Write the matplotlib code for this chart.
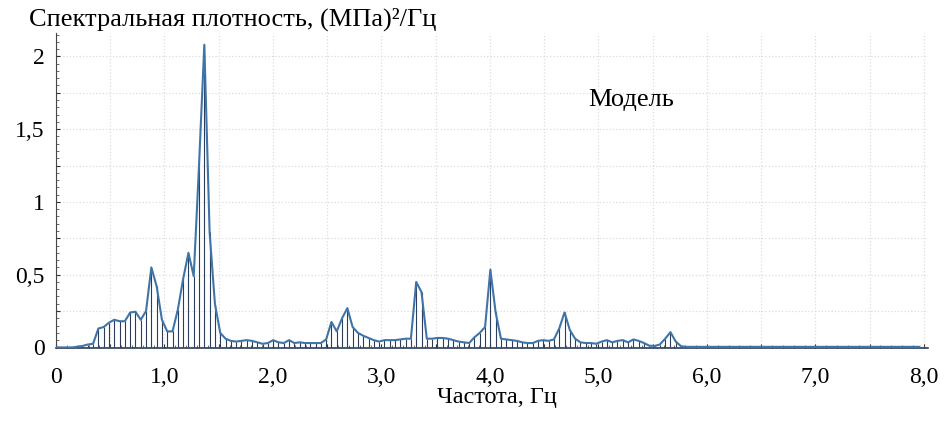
import numpy as np
import matplotlib
matplotlib.use('Agg')
import matplotlib.pyplot as plt
from matplotlib.ticker import MultipleLocator, FuncFormatter

plt.rcParams['font.family'] = ['Liberation Serif', 'DejaVu Serif']

df = 0.048828  # шаг по частоте, Гц

psd = [
    0, 0, 0, 0, 0.005, 0.01, 0.02, 0.025,
    0.13, 0.14, 0.17, 0.19, 0.18, 0.18, 0.24, 0.245, 0.19, 0.25,
    0.55, 0.42, 0.19, 0.11, 0.11, 0.26, 0.47, 0.65, 0.49, 1.25,
    2.08, 0.79, 0.30, 0.10, 0.06, 0.045, 0.04, 0.045, 0.05, 0.045,
    0.035, 0.025, 0.03, 0.05, 0.035, 0.03, 0.05, 0.03, 0.035, 0.03,
    0.03, 0.03, 0.03, 0.055, 0.175, 0.11, 0.20, 0.27, 0.14, 0.10,
    0.08, 0.065, 0.05, 0.04, 0.05, 0.05, 0.05, 0.055, 0.06, 0.06,
    0.45, 0.38, 0.06, 0.06, 0.065, 0.065, 0.06, 0.05, 0.04, 0.035,
    0.03, 0.07, 0.10, 0.14, 0.535, 0.24, 0.06, 0.055, 0.05, 0.045,
    0.035, 0.03, 0.03, 0.045, 0.05, 0.045, 0.055, 0.13, 0.24, 0.12,
    0.06, 0.035, 0.03, 0.03, 0.025, 0.04, 0.05, 0.035, 0.045, 0.05,
    0.035, 0.055, 0.045, 0.03, 0.012, 0.01, 0.02, 0.06, 0.105, 0.04,
    0.008,
    0.004, 0.004, 0.004, 0.004, 0.004, 0.004, 0.004, 0.004, 0.004,
    0.004, 0.004, 0.004, 0.004, 0.004, 0.004, 0.004, 0.004, 0.004,
    0.004, 0.004, 0.004, 0.004, 0.004, 0.004, 0.004, 0.004, 0.004,
    0.004, 0.004, 0.004, 0.004, 0.004, 0.004, 0.004, 0.004, 0.004,
    0.004, 0.004, 0.004, 0.004, 0.004, 0.004, 0.004, 0.004, 0.004,
]
freq = np.arange(len(psd)) * df

fig = plt.figure(figsize=(9.46, 4.21), dpi=100)
ax = fig.add_axes([0.0592, 0.1734, 0.922, 0.748])

ax.vlines(freq, 0, psd, color='#2b3d5a', linewidth=0.8, zorder=2)
ax.plot(freq, psd, color='#3f74a8', linewidth=1.5, zorder=3)

ax.set_xlim(0, 8.04)
ax.set_ylim(-0.004, 2.16)

def fmt_x(v, pos):
    if abs(v - round(v)) > 1e-6:
        return ''
    if round(v) == 0:
        return '0'
    return '%d,0' % round(v)

def fmt_y(v, pos):
    if abs(v * 2 - round(v * 2)) > 1e-6:
        return ''
    return ('%g' % v).replace('.', ',')

ax.xaxis.set_major_locator(MultipleLocator(0.5))
ax.xaxis.set_minor_locator(MultipleLocator(0.1))
ax.yaxis.set_major_locator(MultipleLocator(0.25))
ax.yaxis.set_minor_locator(MultipleLocator(0.05))
ax.xaxis.set_major_formatter(FuncFormatter(fmt_x))
ax.yaxis.set_major_formatter(FuncFormatter(fmt_y))

ax.tick_params(axis='x', which='major', direction='in', length=3, pad=14,
               labelsize=17, color='#333333')
ax.tick_params(axis='x', which='minor', direction='in', length=2, color='#555555')
ax.tick_params(axis='y', which='major', direction='in', length=3, pad=8,
               labelsize=17, color='#333333')
ax.tick_params(axis='y', which='minor', direction='in', length=2, color='#555555')

ax.grid(True, which='major', color='#dcdcdc', linestyle=':', linewidth=0.9)
for side in ['top', 'right']:
    ax.spines[side].set_visible(False)
ax.spines['left'].set_color('#444444')
ax.spines['bottom'].set_color('#2b3d5a')
ax.spines['bottom'].set_linewidth(1.2)

ax.set_xlabel('Частота, Гц', fontsize=17.5, labelpad=3)
ax.xaxis.set_label_coords(0.5057, -0.125)
fig.text(0.031, 0.955, 'Спектральная плотность, (МПа)²/Гц', fontsize=19,
         va='center', ha='left')
ax.text(5.3, 1.70, 'Модель', fontsize=19, ha='center', va='center')

fig.savefig('out.png', dpi=100)
